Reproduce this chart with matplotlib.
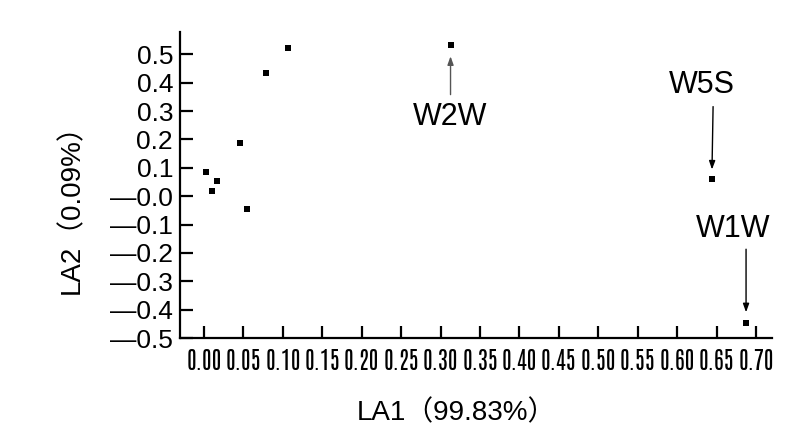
import matplotlib
matplotlib.use("Agg")
import matplotlib.pyplot as plt

# ---- data ----
x_vals = [0.107, 0.078, 0.046, 0.003, 0.017, 0.0105, 0.054, 0.3126, 0.644, 0.6874]
y_vals = [0.523, 0.434, 0.188, 0.086, 0.052, 0.019, -0.047, 0.534, 0.061, -0.448]
point_labels = ["", "", "", "", "", "", "", "W2W", "W5S", "W1W"]
x_ticks = [0.00, 0.05, 0.10, 0.15, 0.20, 0.25, 0.30, 0.35, 0.40, 0.45, 0.50, 0.55, 0.60, 0.65, 0.70]
y_ticks = [0.5, 0.4, 0.3, 0.2, 0.1, 0.0, -0.1, -0.2, -0.3, -0.4, -0.5]
x_label = "LA1（99.83%）"
y_label = "LA2（0.09%）"

MAIN = ["Liberation Sans", "Noto Sans CJK SC", "DejaVu Sans"]
plt.rcParams["font.family"] = MAIN

fig = plt.figure(figsize=(8.05, 4.46), dpi=100)
ax = fig.add_axes([180 / 805, 1 - 338 / 446, (772 - 180) / 805, (338 - 32) / 446])

ax.scatter(x_vals, y_vals, marker="s", s=14, color="black", linewidths=0, zorder=3)

ax.set_xlim(-0.0305, 0.7203)
ax.set_ylim(-0.5, 0.5785)

for s in ["top", "right"]:
    ax.spines[s].set_visible(False)
for s in ["left", "bottom"]:
    ax.spines[s].set_linewidth(1.6)
    ax.spines[s].set_color("black")

ax.set_xticks(x_ticks)
ax.set_xticklabels([f"{v:.2f}" for v in x_ticks],
                   family=["Antonio", "Barlow Condensed", "Liberation Sans"],
                   fontsize=17, fontweight="light", color="#111111")
ax.set_yticks(y_ticks)
ax.set_yticklabels([f"{v:.1f}" if v > 0 else "\u2014" + f"{abs(v):.1f}" for v in y_ticks], fontsize=19)
ax.tick_params(axis="both", direction="in", length=9, width=1.6, colors="black")
ax.tick_params(axis="y", pad=5)
ax.tick_params(axis="x", pad=8)

fig.text(456 / 805, 1 - 413 / 446, x_label, ha="center", va="center", fontsize=20)
fig.text(72 / 805, 1 - 202 / 446, y_label, ha="center", va="center", fontsize=20, rotation=90)

# annotations: (text offset, arrow start offset, shrink at point) in points
ann = {
    "W2W": ((0, -52), (0, -36), 8.4, "#555555"),
    "W5S": ((-7.2, 67.7), (0.9, 52), 6.7, "black"),
    "W1W": ((-9.1, 67.7), (0, 53.3), 7.9, "black"),
}
for xv, yv, lab in zip(x_vals, y_vals, point_labels):
    if not lab:
        continue
    toff, aoff, sb, col = ann[lab]
    ax.annotate(lab, xy=(xv, yv), xytext=toff, textcoords="offset points",
                ha="center", va="center", fontsize=22)
    ax.annotate("", xy=(xv, yv), xytext=aoff, textcoords="offset points",
                arrowprops=dict(arrowstyle="-|>,head_length=0.5,head_width=0.18",
                                color=col, lw=1.0, shrinkA=0, shrinkB=sb))

fig.savefig("out.png", dpi=100)
